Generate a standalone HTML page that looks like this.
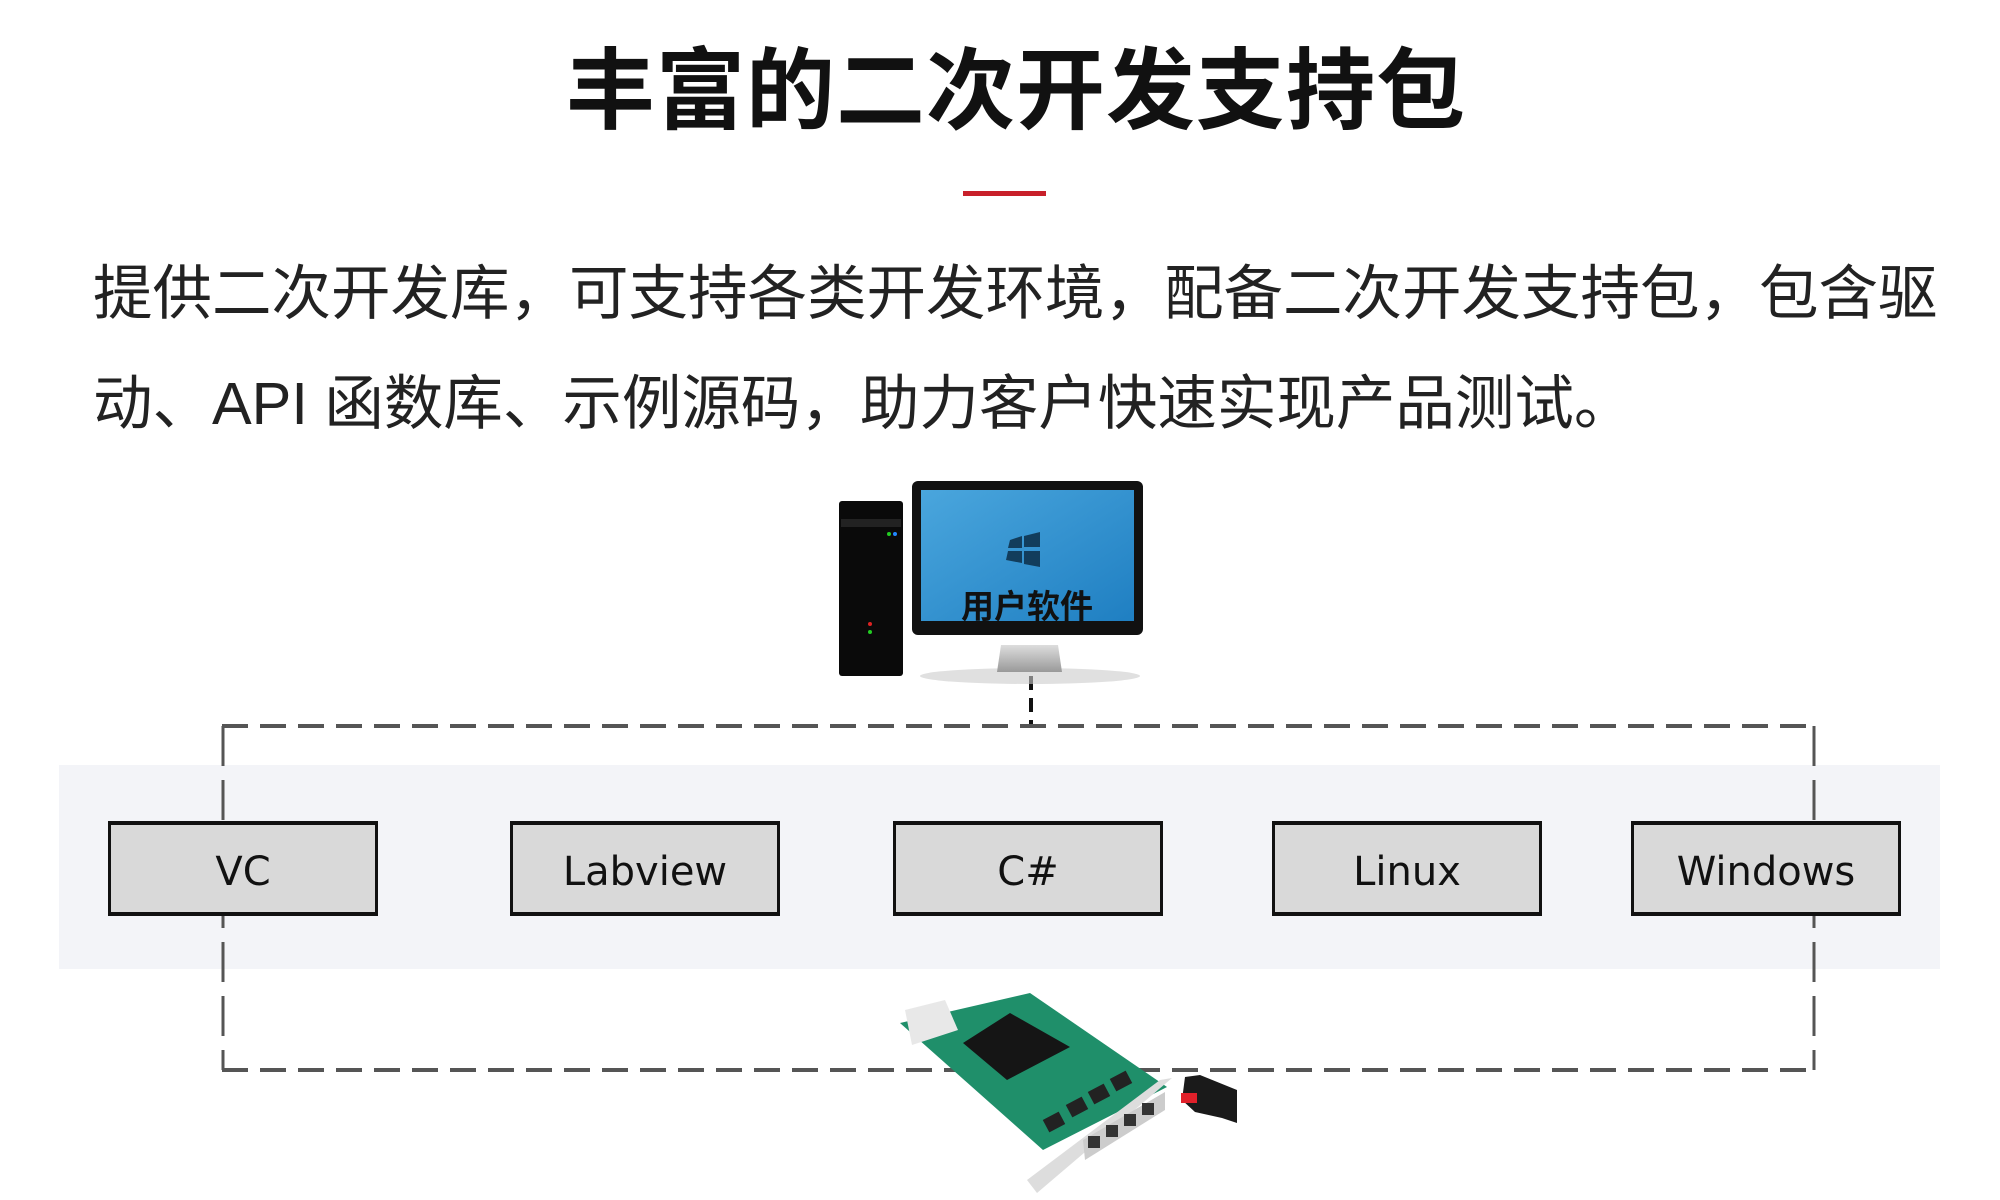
<!DOCTYPE html>
<html><head><meta charset="utf-8"><style>
html,body{margin:0;padding:0;background:#fff;}
body{width:2000px;height:1200px;position:relative;overflow:hidden;font-family:"Liberation Sans","Noto Sans CJK SC",sans-serif;}
.t{position:absolute;left:16px;width:2000px;text-align:center;top:38px;font-size:89px;font-weight:bold;color:#111;line-height:1.2;letter-spacing:1px;}
.red{position:absolute;left:963px;top:191px;width:83px;height:5px;background:#c8202a;}
.p{position:absolute;left:93px;font-size:59.5px;color:#222;white-space:nowrap;line-height:1;}
.band{position:absolute;left:59px;top:765px;width:1881px;height:204px;background:#f3f4f8;}
.box{position:absolute;top:821px;width:264px;height:87px;background:#d9d9d9;border:3px solid #111;border-top-width:4px;border-bottom-width:4px;font-family:"DejaVu Sans","Liberation Sans",sans-serif;font-size:40px;display:flex;align-items:center;justify-content:center;color:#111;padding-top:6px;box-sizing:content-box;height:81px;}
</style></head><body>
<div class="t">丰富的二次开发支持包</div>
<div class="red"></div>
<div class="p" style="top:264px">提供二次开发库，可支持各类开发环境，配备二次开发支持包，包含驱</div>
<div class="p" style="top:374px">动、API 函数库、示例源码，助力客户快速实现产品测试。</div>
<div class="band"></div>
<svg width="2000" height="1200" style="position:absolute;left:0;top:0">
<line x1="1031" y1="676" x2="1031" y2="726" stroke="#111" stroke-width="4" stroke-dasharray="14,8"/>
<line x1="222" y1="726" x2="1814" y2="726" stroke="#555" stroke-width="4" stroke-dasharray="26,12"/>
<line x1="222" y1="1070" x2="1814" y2="1070" stroke="#555" stroke-width="4" stroke-dasharray="26,12"/>
<line x1="223" y1="726" x2="223" y2="1070" stroke="#555" stroke-width="3" stroke-dasharray="40,14"/>
<line x1="1814" y1="726" x2="1814" y2="1070" stroke="#555" stroke-width="3" stroke-dasharray="40,14"/>
</svg>
<div class="box" style="left:108px">VC</div>
<div class="box" style="left:510px">Labview</div>
<div class="box" style="left:893px">C#</div>
<div class="box" style="left:1272px">Linux</div>
<div class="box" style="left:1631px">Windows</div>
<svg width="2000" height="1200" style="position:absolute;left:0;top:0">
<defs><linearGradient id="scr" x1="0" y1="0" x2="1" y2="1"><stop offset="0" stop-color="#4aa6dd"/><stop offset="1" stop-color="#1f7fc2"/></linearGradient>
<linearGradient id="st" x1="0" y1="0" x2="0" y2="1"><stop offset="0" stop-color="#ddd"/><stop offset="1" stop-color="#999"/></linearGradient></defs>
<ellipse cx="1030" cy="676" rx="110" ry="8" fill="#ccc" opacity="0.6"/>
<rect x="839" y="501" width="64" height="175" rx="3" fill="#0a0a0a"/>
<rect x="841" y="519" width="60" height="8" fill="#222"/>
<circle cx="889" cy="534" r="2" fill="#2c2"/><circle cx="895" cy="534" r="2" fill="#28f"/>
<circle cx="870" cy="624" r="2" fill="#d22"/><circle cx="870" cy="632" r="2" fill="#2c2"/>
<path d="M1001 645 L1058 645 L1062 672 L997 672 Z" fill="url(#st)"/>
<rect x="912" y="481" width="231" height="154" rx="6" fill="#111"/>
<rect x="921" y="490" width="213" height="131" fill="url(#scr)"/>
<path d="M1010 540 l12 -4 v12 h-14 z M1024 536 l16 -4 v15 h-16 z M1008 551 h14 v12 l-16 -3 z M1024 551 h16 v16 l-16 -3 z" fill="#123d5c"/>
<text x="1027" y="618" text-anchor="middle" font-family="Liberation Sans,Noto Sans CJK SC,sans-serif" font-weight="bold" font-size="33" fill="#111">用户软件</text>
<polygon points="900,1023 1030,993 1167,1087 1043,1150" fill="#1f8f6a"/>
<polygon points="905,1010 945,1000 958,1030 912,1045" fill="#e8e8e8"/>
<polygon points="963,1043 1010,1013 1070,1047 1007,1080" fill="#151515"/>
<g fill="#222"><rect x="1045" y="1115" width="18" height="14" transform="rotate(-28 1054 1122)"/><rect x="1068" y="1100" width="18" height="14" transform="rotate(-28 1077 1107)"/><rect x="1090" y="1087" width="18" height="14" transform="rotate(-28 1099 1094)"/><rect x="1112" y="1074" width="18" height="14" transform="rotate(-28 1121 1081)"/></g>
<polygon points="1160,1080 1172,1078 1037,1193 1027,1180" fill="#ddd"/>
<polygon points="1083,1140 1165,1092 1165,1110 1085,1160" fill="#ccc"/>
<g fill="#333"><rect x="1088" y="1136" width="12" height="12"/><rect x="1106" y="1125" width="12" height="12"/><rect x="1124" y="1114" width="12" height="12"/><rect x="1142" y="1103" width="12" height="12"/></g>
<polygon points="1185,1077 1200,1075 1237,1090 1237,1123 1222,1118 1195,1112 1182,1100" fill="#1a1a1a"/>
<rect x="1181" y="1093" width="16" height="10" fill="#e0202a"/>
</svg>
</body></html>
